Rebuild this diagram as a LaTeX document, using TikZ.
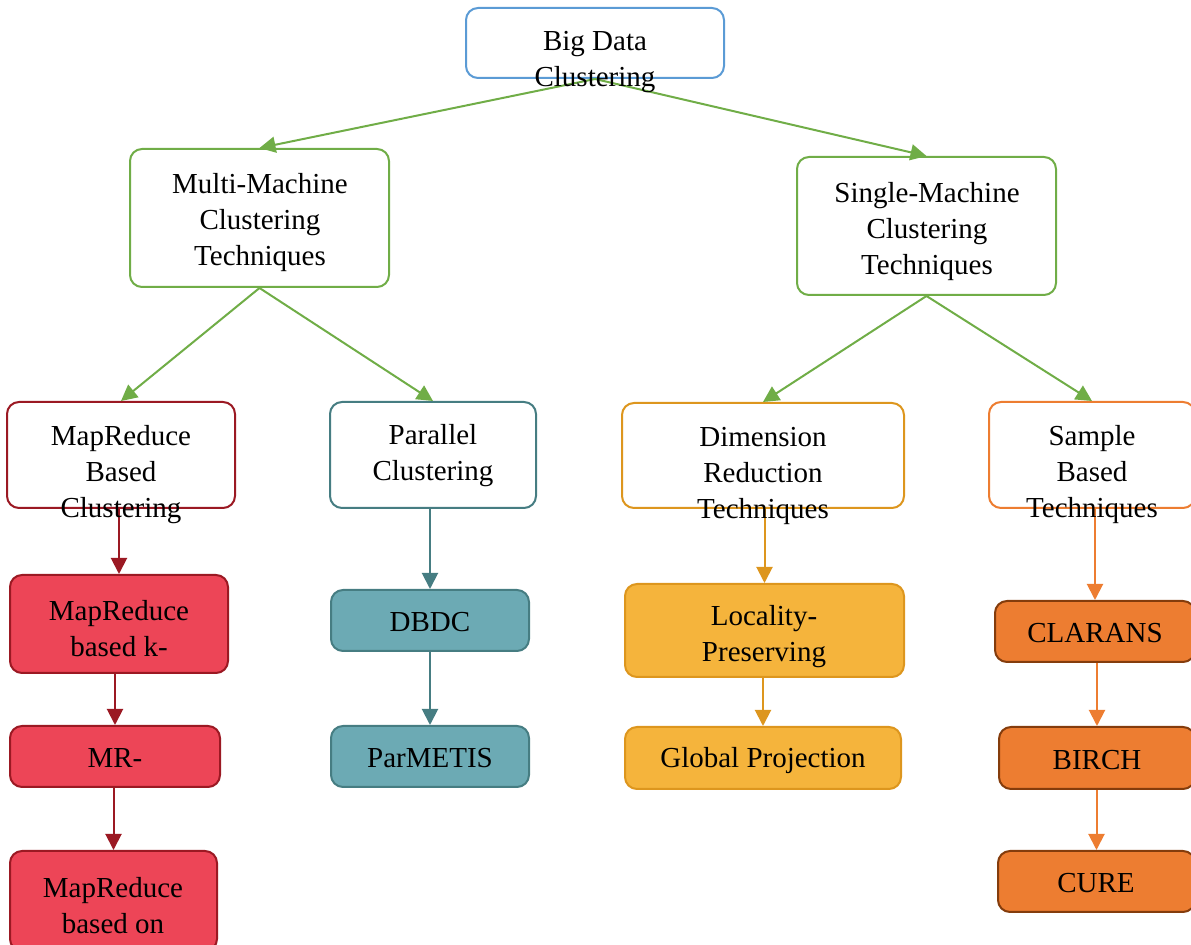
\documentclass[tikz,border=0pt]{standalone}
\usepackage{fontspec}
\setmainfont{Liberation Serif}
\usetikzlibrary{arrows.meta,positioning}

\definecolor{bdblue}{RGB}{91,155,213}
\definecolor{bdgreen}{RGB}{112,173,71}
\definecolor{mrline}{RGB}{155,25,35}
\definecolor{mrfill}{RGB}{237,69,87}
\definecolor{parline}{RGB}{70,125,130}
\definecolor{parfill}{RGB}{108,170,180}
\definecolor{dimline}{RGB}{221,150,30}
\definecolor{dimfill}{RGB}{245,180,60}
\definecolor{smpline}{RGB}{237,125,49}
\definecolor{smpdark}{RGB}{132,60,12}

\begin{document}
\begin{tikzpicture}[x=0.5pt, y=-0.5pt,
    box/.style={draw, rounded corners=6pt, line width=1pt, inner sep=0pt},
    txt/.style={align=center, font=\fontsize{14.5}{18}\selectfont, inner sep=0pt},
    arrow/.style={-{Triangle[length=8pt,width=8pt]}, line width=1pt}
]
    \useasboundingbox (0,0) rectangle (1191,945);

    % boxes
    \node[box, bdblue, fill=white, minimum width=129pt, minimum height=35pt] (big) at (595,43) {};
    \node[box, bdgreen, fill=white, minimum width=129.5pt, minimum height=69pt] (multi) at (259.5,218) {};
    \node[box, bdgreen, fill=white, minimum width=129.5pt, minimum height=69pt] (single) at (926.5,226) {};

    \node[box, mrline, fill=white, minimum width=114pt, minimum height=53pt] (mrb) at (121,455) {};
    \node[box, parline, fill=white, minimum width=103pt, minimum height=53pt] (par) at (433,455) {};
    \node[box, dimline, fill=white, minimum width=141pt, minimum height=52.5pt] (dim) at (763,455.5) {};
    \node[box, smpline, fill=white, minimum width=103pt, minimum height=53pt] (smp) at (1092,455) {};

    \node[box, mrline, fill=mrfill, minimum width=109pt, minimum height=49pt] (mrk) at (119,624) {};
    \node[box, mrline, fill=mrfill, minimum width=105pt, minimum height=30.5pt] (mr) at (115,756.5) {};
    \node[box, mrline, fill=mrfill, minimum width=103.5pt, minimum height=50pt] (mro) at (113.5,901) {};

    \node[box, parline, fill=parfill, minimum width=99pt, minimum height=30.5pt] (dbdc) at (430,620.5) {};
    \node[box, parline, fill=parfill, minimum width=99pt, minimum height=30.5pt] (parm) at (430,756.5) {};

    \node[box, dimline, fill=dimfill, minimum width=139.5pt, minimum height=46.5pt] (lpp) at (764.5,630.5) {};
    \node[box, dimline, fill=dimfill, minimum width=138pt, minimum height=31pt] (gp) at (763,758) {};

    \node[box, smpdark, fill=smpline, minimum width=100pt, minimum height=30.5pt] (clar) at (1095,631.5) {};
    \node[box, smpdark, fill=smpline, minimum width=98pt, minimum height=31pt] (birch) at (1097,758) {};
    \node[box, smpdark, fill=smpline, minimum width=98.5pt, minimum height=30.5pt] (cure) at (1096.5,881.5) {};

    % connectors
    \draw[arrow, bdgreen] (big.south) -- (multi.north);
    \draw[arrow, bdgreen] (big.south) -- (single.north);
    \draw[arrow, bdgreen] (multi.south) -- (mrb.north);
    \draw[arrow, bdgreen] (multi.south) -- (par.north);
    \draw[arrow, bdgreen] (single.south) -- (dim.north);
    \draw[arrow, bdgreen] (single.south) -- (smp.north);

    % straight down, at the lower box's centre
    \draw[arrow, mrline] (mrk.north |- mrb.south) -- (mrk.north);
    \draw[arrow, mrline] (mr.north |- mrk.south) -- (mr.north);
    \draw[arrow, mrline] (mro.north |- mr.south) -- (mro.north);
    \draw[arrow, parline] (dbdc.north |- par.south) -- (dbdc.north);
    \draw[arrow, parline] (dbdc.south) -- (parm.north);
    \draw[arrow, dimline] (lpp.north |- dim.south) -- (lpp.north);
    \draw[arrow, dimline] (gp.north |- lpp.south) -- (gp.north);
    \draw[arrow, smpline] (clar.north |- smp.south) -- (clar.north);
    \draw[arrow, smpline] (birch.north |- clar.south) -- (birch.north);
    \draw[arrow, smpline] (cure.north |- birch.south) -- (cure.north);

    % texts (they run over the box edges as in the original)
    \node[txt] (big-t) at (595,62) {Big Data\\Clustering};
    \node[txt] (multi-t) at (260,223) {Multi-Machine\\Clustering\\Techniques};
    \node[txt] (single-t) at (927,231.5) {Single-Machine\\Clustering\\Techniques};
    \node[txt] (mrb-t) at (121,475) {MapReduce\\Based\\Clustering};
    \node[txt] (par-t) at (433,456) {Parallel\\Clustering};
    \node[txt] (dim-t) at (763,476) {Dimension\\Reduction\\Techniques};
    \node[txt] (smp-t) at (1092,474.5) {Sample\\Based\\Techniques};
    \node[txt] (mrk-t) at (119,629) {MapReduce\\based k-};
    \node[txt] (mr-t) at (115,758) {MR-};
    \node[txt] (mro-t) at (113,906) {MapReduce\\based on};
    \node[txt] (dbdc-t) at (430,622) {DBDC};
    \node[txt] (parm-t) at (430,758) {ParMETIS};
    \node[txt] (lpp-t) at (764,637) {Locality-\\Preserving};
    \node[txt] (gp-t) at (763,761) {Global Projection};
    \node[txt] (clar-t) at (1095,633) {CLARANS};
    \node[txt] (birch-t) at (1097,760) {BIRCH};
    \node[txt] (cure-t) at (1096,883) {CURE};
\end{tikzpicture}
\end{document}
